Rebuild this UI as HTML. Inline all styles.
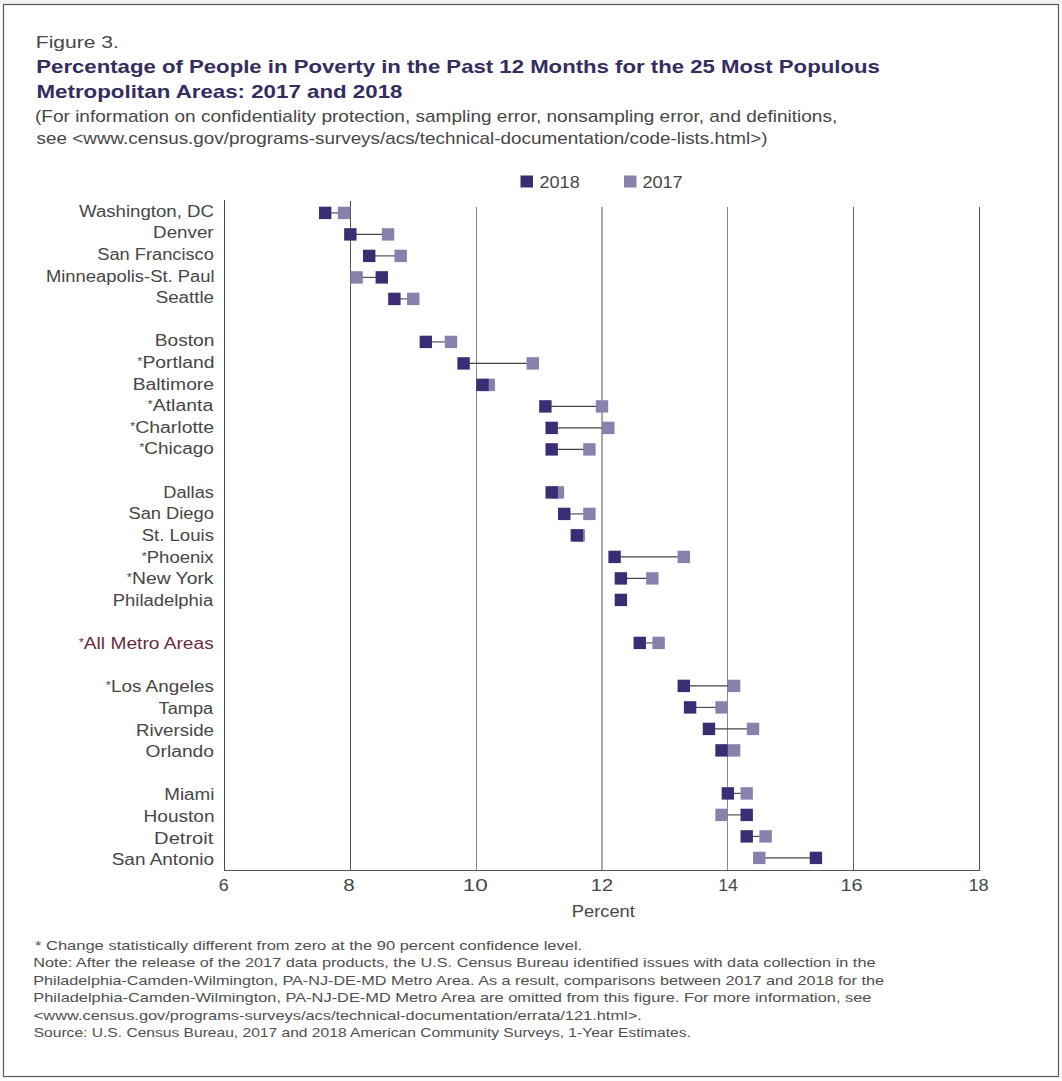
<!DOCTYPE html>
<html><head><meta charset="utf-8"><style>
html,body{margin:0;padding:0;background:#fff;}
svg{display:block;}
text{font-family:"Liberation Sans",sans-serif;}
</style></head><body>
<svg width="1062" height="1081" viewBox="0 0 1062 1081">
<rect width="1062" height="1081" fill="#fdfdfd"/>
<rect x="0" y="0" width="1062" height="4" fill="#f3f3f3"/>
<rect x="3.5" y="4.5" width="1055" height="1072" fill="#fff" stroke="#5a5a5a" stroke-width="1.2"/>
<rect x="520.5" y="175.5" width="12.5" height="12" fill="#3c2c74"/>
<rect x="624" y="175.5" width="12.5" height="12" fill="#8a80ae"/>
<rect x="350.0" y="201" width="1" height="670" fill="#555"/>
<rect x="476.0" y="207" width="1" height="664" fill="#888"/>
<rect x="601.0" y="207" width="2" height="664" fill="#ababab"/>
<rect x="727.0" y="207" width="1" height="664" fill="#888"/>
<rect x="853.0" y="207" width="1" height="664" fill="#606060"/>
<rect x="979.0" y="207" width="1" height="664" fill="#505050"/>
<rect x="224" y="200" width="1" height="671" fill="#4a4a4a"/>
<rect x="224" y="870" width="756" height="1" fill="#555"/>
<line x1="325.2" y1="212.9" x2="344.0" y2="212.9" stroke="#444" stroke-width="1.1"/>
<rect x="337.84" y="206.70" width="12.4" height="12.4" fill="#8a80ae"/>
<rect x="318.97" y="206.70" width="12.4" height="12.4" fill="#3c2c74"/>
<line x1="350.3" y1="234.4" x2="388.1" y2="234.4" stroke="#444" stroke-width="1.1"/>
<rect x="381.88" y="228.20" width="12.4" height="12.4" fill="#8a80ae"/>
<rect x="344.13" y="228.20" width="12.4" height="12.4" fill="#3c2c74"/>
<line x1="369.2" y1="255.9" x2="400.7" y2="255.9" stroke="#444" stroke-width="1.1"/>
<rect x="394.47" y="249.70" width="12.4" height="12.4" fill="#8a80ae"/>
<rect x="363.01" y="249.70" width="12.4" height="12.4" fill="#3c2c74"/>
<line x1="381.8" y1="277.4" x2="356.6" y2="277.4" stroke="#444" stroke-width="1.1"/>
<rect x="350.43" y="271.20" width="12.4" height="12.4" fill="#8a80ae"/>
<rect x="375.59" y="271.20" width="12.4" height="12.4" fill="#3c2c74"/>
<line x1="394.4" y1="298.9" x2="413.3" y2="298.9" stroke="#444" stroke-width="1.1"/>
<rect x="407.05" y="292.70" width="12.4" height="12.4" fill="#8a80ae"/>
<rect x="388.18" y="292.70" width="12.4" height="12.4" fill="#3c2c74"/>
<line x1="425.8" y1="341.9" x2="451.0" y2="341.9" stroke="#444" stroke-width="1.1"/>
<rect x="444.80" y="335.70" width="12.4" height="12.4" fill="#8a80ae"/>
<rect x="419.63" y="335.70" width="12.4" height="12.4" fill="#3c2c74"/>
<line x1="463.6" y1="363.4" x2="532.8" y2="363.4" stroke="#444" stroke-width="1.1"/>
<rect x="526.59" y="357.20" width="12.4" height="12.4" fill="#8a80ae"/>
<rect x="457.38" y="357.20" width="12.4" height="12.4" fill="#3c2c74"/>
<line x1="482.5" y1="384.9" x2="488.8" y2="384.9" stroke="#444" stroke-width="1.1"/>
<rect x="482.55" y="378.70" width="12.4" height="12.4" fill="#8a80ae"/>
<rect x="476.26" y="378.70" width="12.4" height="12.4" fill="#3c2c74"/>
<line x1="545.4" y1="406.4" x2="602.0" y2="406.4" stroke="#444" stroke-width="1.1"/>
<rect x="595.80" y="400.20" width="12.4" height="12.4" fill="#8a80ae"/>
<rect x="539.18" y="400.20" width="12.4" height="12.4" fill="#3c2c74"/>
<line x1="551.7" y1="427.9" x2="608.3" y2="427.9" stroke="#444" stroke-width="1.1"/>
<rect x="602.09" y="421.70" width="12.4" height="12.4" fill="#8a80ae"/>
<rect x="545.47" y="421.70" width="12.4" height="12.4" fill="#3c2c74"/>
<line x1="551.7" y1="449.4" x2="589.4" y2="449.4" stroke="#444" stroke-width="1.1"/>
<rect x="583.22" y="443.20" width="12.4" height="12.4" fill="#8a80ae"/>
<rect x="545.47" y="443.20" width="12.4" height="12.4" fill="#3c2c74"/>
<line x1="551.7" y1="492.4" x2="558.0" y2="492.4" stroke="#444" stroke-width="1.1"/>
<rect x="551.76" y="486.20" width="12.4" height="12.4" fill="#8a80ae"/>
<rect x="545.47" y="486.20" width="12.4" height="12.4" fill="#3c2c74"/>
<line x1="564.3" y1="513.9" x2="589.4" y2="513.9" stroke="#444" stroke-width="1.1"/>
<rect x="583.22" y="507.70" width="12.4" height="12.4" fill="#8a80ae"/>
<rect x="558.05" y="507.70" width="12.4" height="12.4" fill="#3c2c74"/>
<line x1="576.8" y1="535.4" x2="578.7" y2="535.4" stroke="#444" stroke-width="1.1"/>
<rect x="572.52" y="529.20" width="12.4" height="12.4" fill="#8a80ae"/>
<rect x="570.64" y="529.20" width="12.4" height="12.4" fill="#3c2c74"/>
<line x1="614.6" y1="556.9" x2="683.8" y2="556.9" stroke="#444" stroke-width="1.1"/>
<rect x="677.59" y="550.70" width="12.4" height="12.4" fill="#8a80ae"/>
<rect x="608.39" y="550.70" width="12.4" height="12.4" fill="#3c2c74"/>
<line x1="620.9" y1="578.4" x2="652.3" y2="578.4" stroke="#444" stroke-width="1.1"/>
<rect x="646.14" y="572.20" width="12.4" height="12.4" fill="#8a80ae"/>
<rect x="614.68" y="572.20" width="12.4" height="12.4" fill="#3c2c74"/>
<rect x="614.68" y="593.70" width="12.4" height="12.4" fill="#3c2c74"/>
<line x1="639.8" y1="642.9" x2="658.6" y2="642.9" stroke="#444" stroke-width="1.1"/>
<rect x="652.43" y="636.70" width="12.4" height="12.4" fill="#8a80ae"/>
<rect x="633.55" y="636.70" width="12.4" height="12.4" fill="#3c2c74"/>
<line x1="683.8" y1="685.9" x2="734.1" y2="685.9" stroke="#444" stroke-width="1.1"/>
<rect x="727.93" y="679.70" width="12.4" height="12.4" fill="#8a80ae"/>
<rect x="677.59" y="679.70" width="12.4" height="12.4" fill="#3c2c74"/>
<line x1="690.1" y1="707.4" x2="721.5" y2="707.4" stroke="#444" stroke-width="1.1"/>
<rect x="715.34" y="701.20" width="12.4" height="12.4" fill="#8a80ae"/>
<rect x="683.89" y="701.20" width="12.4" height="12.4" fill="#3c2c74"/>
<line x1="709.0" y1="728.9" x2="753.0" y2="728.9" stroke="#444" stroke-width="1.1"/>
<rect x="746.80" y="722.70" width="12.4" height="12.4" fill="#8a80ae"/>
<rect x="702.76" y="722.70" width="12.4" height="12.4" fill="#3c2c74"/>
<line x1="721.5" y1="750.4" x2="734.1" y2="750.4" stroke="#444" stroke-width="1.1"/>
<rect x="727.93" y="744.20" width="12.4" height="12.4" fill="#8a80ae"/>
<rect x="715.34" y="744.20" width="12.4" height="12.4" fill="#3c2c74"/>
<line x1="727.8" y1="793.4" x2="746.7" y2="793.4" stroke="#444" stroke-width="1.1"/>
<rect x="740.51" y="787.20" width="12.4" height="12.4" fill="#8a80ae"/>
<rect x="721.64" y="787.20" width="12.4" height="12.4" fill="#3c2c74"/>
<line x1="746.7" y1="814.9" x2="721.5" y2="814.9" stroke="#444" stroke-width="1.1"/>
<rect x="715.34" y="808.70" width="12.4" height="12.4" fill="#8a80ae"/>
<rect x="740.51" y="808.70" width="12.4" height="12.4" fill="#3c2c74"/>
<line x1="746.7" y1="836.4" x2="765.6" y2="836.4" stroke="#444" stroke-width="1.1"/>
<rect x="759.39" y="830.20" width="12.4" height="12.4" fill="#8a80ae"/>
<rect x="740.51" y="830.20" width="12.4" height="12.4" fill="#3c2c74"/>
<line x1="815.9" y1="857.9" x2="759.3" y2="857.9" stroke="#444" stroke-width="1.1"/>
<rect x="753.09" y="851.70" width="12.4" height="12.4" fill="#8a80ae"/>
<rect x="809.72" y="851.70" width="12.4" height="12.4" fill="#3c2c74"/>
<text x="35.84" y="48.1" font-size="17.4" font-weight="normal" fill="#464646" textLength="82.99" lengthAdjust="spacingAndGlyphs">Figure 3.</text>
<text x="36.31" y="73.0" font-size="18.5" font-weight="bold" fill="#352c60" textLength="843.49" lengthAdjust="spacingAndGlyphs">Percentage of People in Poverty in the Past 12 Months for the 25 Most Populous</text>
<text x="36.54" y="97.9" font-size="18.5" font-weight="bold" fill="#352c60" textLength="365.90" lengthAdjust="spacingAndGlyphs">Metropolitan Areas: 2017 and 2018</text>
<text x="35.00" y="121.5" font-size="16.1" font-weight="normal" fill="#464646" textLength="802.21" lengthAdjust="spacingAndGlyphs">(For information on confidentiality protection, sampling error, nonsampling error, and definitions,</text>
<text x="36.60" y="144.3" font-size="16.1" font-weight="normal" fill="#464646" textLength="730.86" lengthAdjust="spacingAndGlyphs">see &lt;www.census.gov/programs-surveys/acs/technical-documentation/code-lists.html&gt;)</text>
<text x="539.52" y="187.9" font-size="16" font-weight="normal" fill="#464646" textLength="40.19" lengthAdjust="spacingAndGlyphs">2018</text>
<text x="642.42" y="187.9" font-size="16" font-weight="normal" fill="#464646" textLength="40.17" lengthAdjust="spacingAndGlyphs">2017</text>
<text x="218.88" y="890.8" font-size="16.4" font-weight="normal" fill="#464646" textLength="10.02" lengthAdjust="spacingAndGlyphs">6</text>
<text x="343.21" y="890.8" font-size="16.4" font-weight="normal" fill="#464646" textLength="11.40" lengthAdjust="spacingAndGlyphs">8</text>
<text x="462.70" y="890.8" font-size="16.4" font-weight="normal" fill="#464646" textLength="25.00" lengthAdjust="spacingAndGlyphs">10</text>
<text x="590.89" y="890.8" font-size="16.4" font-weight="normal" fill="#464646" textLength="22.18" lengthAdjust="spacingAndGlyphs">12</text>
<text x="718.16" y="890.8" font-size="16.4" font-weight="normal" fill="#464646" textLength="19.76" lengthAdjust="spacingAndGlyphs">14</text>
<text x="840.50" y="890.8" font-size="16.4" font-weight="normal" fill="#464646" textLength="22.09" lengthAdjust="spacingAndGlyphs">16</text>
<text x="968.42" y="890.8" font-size="16.4" font-weight="normal" fill="#464646" textLength="20.29" lengthAdjust="spacingAndGlyphs">18</text>
<text x="571.79" y="916.9" font-size="16" font-weight="normal" fill="#464646" textLength="63.04" lengthAdjust="spacingAndGlyphs">Percent</text>
<text x="79.03" y="216.6" font-size="16.0" font-weight="normal" fill="#464646" textLength="134.98" lengthAdjust="spacingAndGlyphs">Washington, DC</text>
<text x="153.13" y="238.2" font-size="16.0" font-weight="normal" fill="#464646" textLength="60.43" lengthAdjust="spacingAndGlyphs">Denver</text>
<text x="97.27" y="259.8" font-size="16.0" font-weight="normal" fill="#464646" textLength="116.63" lengthAdjust="spacingAndGlyphs">San Francisco</text>
<text x="45.95" y="281.5" font-size="16.0" font-weight="normal" fill="#464646" textLength="168.60" lengthAdjust="spacingAndGlyphs">Minneapolis-St. Paul</text>
<text x="155.67" y="303.1" font-size="16.0" font-weight="normal" fill="#464646" textLength="58.35" lengthAdjust="spacingAndGlyphs">Seattle</text>
<text x="154.75" y="346.3" font-size="16.0" font-weight="normal" fill="#464646" textLength="59.64" lengthAdjust="spacingAndGlyphs">Boston</text>
<text x="137.29" y="367.9" font-size="16.0" font-weight="normal" fill="#464646" textLength="77.14" lengthAdjust="spacingAndGlyphs"><tspan font-size="11" dy="-3">*</tspan><tspan dy="3">Portland</tspan></text>
<text x="132.67" y="389.6" font-size="16.0" font-weight="normal" fill="#464646" textLength="81.34" lengthAdjust="spacingAndGlyphs">Baltimore</text>
<text x="147.51" y="411.2" font-size="16.0" font-weight="normal" fill="#464646" textLength="65.69" lengthAdjust="spacingAndGlyphs"><tspan font-size="11" dy="-3">*</tspan><tspan dy="3">Atlanta</tspan></text>
<text x="130.06" y="432.8" font-size="16.0" font-weight="normal" fill="#464646" textLength="83.98" lengthAdjust="spacingAndGlyphs"><tspan font-size="11" dy="-3">*</tspan><tspan dy="3">Charlotte</tspan></text>
<text x="139.20" y="454.4" font-size="16.0" font-weight="normal" fill="#464646" textLength="74.75" lengthAdjust="spacingAndGlyphs"><tspan font-size="11" dy="-3">*</tspan><tspan dy="3">Chicago</tspan></text>
<text x="163.28" y="497.7" font-size="16.0" font-weight="normal" fill="#464646" textLength="50.63" lengthAdjust="spacingAndGlyphs">Dallas</text>
<text x="128.48" y="519.3" font-size="16.0" font-weight="normal" fill="#464646" textLength="85.41" lengthAdjust="spacingAndGlyphs">San Diego</text>
<text x="141.69" y="540.9" font-size="16.0" font-weight="normal" fill="#464646" textLength="72.23" lengthAdjust="spacingAndGlyphs">St. Louis</text>
<text x="141.81" y="562.5" font-size="16.0" font-weight="normal" fill="#464646" textLength="71.82" lengthAdjust="spacingAndGlyphs"><tspan font-size="11" dy="-3">*</tspan><tspan dy="3">Phoenix</tspan></text>
<text x="126.85" y="584.1" font-size="16.0" font-weight="normal" fill="#464646" textLength="86.69" lengthAdjust="spacingAndGlyphs"><tspan font-size="11" dy="-3">*</tspan><tspan dy="3">New York</tspan></text>
<text x="112.79" y="605.8" font-size="16.0" font-weight="normal" fill="#464646" textLength="100.41" lengthAdjust="spacingAndGlyphs">Philadelphia</text>
<text x="78.73" y="649.0" font-size="16.0" font-weight="normal" fill="#6a2a3e" textLength="135.01" lengthAdjust="spacingAndGlyphs"><tspan font-size="11" dy="-3">*</tspan><tspan dy="3">All Metro Areas</tspan></text>
<text x="105.87" y="692.2" font-size="16.0" font-weight="normal" fill="#464646" textLength="107.98" lengthAdjust="spacingAndGlyphs"><tspan font-size="11" dy="-3">*</tspan><tspan dy="3">Los Angeles</tspan></text>
<text x="158.56" y="713.9" font-size="16.0" font-weight="normal" fill="#464646" textLength="54.64" lengthAdjust="spacingAndGlyphs">Tampa</text>
<text x="136.14" y="735.5" font-size="16.0" font-weight="normal" fill="#464646" textLength="77.84" lengthAdjust="spacingAndGlyphs">Riverside</text>
<text x="145.64" y="757.1" font-size="16.0" font-weight="normal" fill="#464646" textLength="68.38" lengthAdjust="spacingAndGlyphs">Orlando</text>
<text x="164.30" y="800.3" font-size="16.0" font-weight="normal" fill="#464646" textLength="50.11" lengthAdjust="spacingAndGlyphs">Miami</text>
<text x="143.54" y="822.0" font-size="16.0" font-weight="normal" fill="#464646" textLength="70.94" lengthAdjust="spacingAndGlyphs">Houston</text>
<text x="154.14" y="843.6" font-size="16.0" font-weight="normal" fill="#464646" textLength="59.18" lengthAdjust="spacingAndGlyphs">Detroit</text>
<text x="111.68" y="865.2" font-size="16.0" font-weight="normal" fill="#464646" textLength="102.34" lengthAdjust="spacingAndGlyphs">San Antonio</text>
<text x="35.00" y="950.4" font-size="13.4" font-weight="normal" fill="#4f4f4f" textLength="547.19" lengthAdjust="spacingAndGlyphs">* Change statistically different from zero at the 90 percent confidence level.</text>
<text x="33.32" y="967.4" font-size="13.4" font-weight="normal" fill="#4f4f4f" textLength="842.18" lengthAdjust="spacingAndGlyphs">Note: After the release of the 2017 data products, the U.S. Census Bureau identified issues with data collection in the</text>
<text x="33.30" y="985.3" font-size="13.4" font-weight="normal" fill="#4f4f4f" textLength="850.70" lengthAdjust="spacingAndGlyphs">Philadelphia-Camden-Wilmington, PA-NJ-DE-MD Metro Area. As a result, comparisons between 2017 and 2018 for the</text>
<text x="33.32" y="1002.3" font-size="13.4" font-weight="normal" fill="#4f4f4f" textLength="838.18" lengthAdjust="spacingAndGlyphs">Philadelphia-Camden-Wilmington, PA-NJ-DE-MD Metro Area are omitted from this figure. For more information, see</text>
<text x="33.78" y="1020.4" font-size="13.4" font-weight="normal" fill="#4f4f4f" textLength="608.03" lengthAdjust="spacingAndGlyphs">&lt;www.census.gov/programs-surveys/acs/technical-documentation/errata/121.html&gt;.</text>
<text x="33.69" y="1036.9" font-size="13.4" font-weight="normal" fill="#4f4f4f" textLength="657.13" lengthAdjust="spacingAndGlyphs">Source: U.S. Census Bureau, 2017 and 2018 American Community Surveys, 1-Year Estimates.</text>
</svg></body></html>
